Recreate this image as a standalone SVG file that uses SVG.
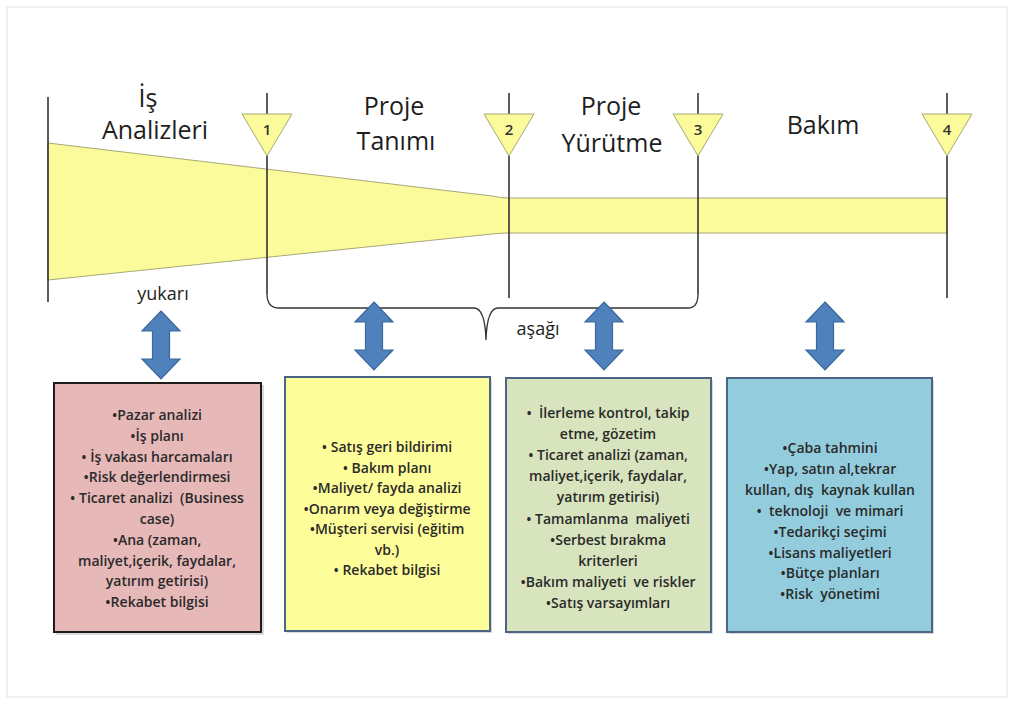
<svg xmlns="http://www.w3.org/2000/svg" width="1014" height="703" viewBox="0 0 1014 703">
  <style>
    .frame { fill: #ffffff; stroke: #ececec; stroke-width: 1.5; }
    .phase-line { stroke: #333333; stroke-width: 1.6; fill: none; }
    .funnel { fill: #fbfb9c; stroke: #a8a878; stroke-width: 1; }
    .gate { fill: #fbfb9c; stroke: #a8a878; stroke-width: 1; }
    .gate-num { font-family: "Open Sans", "Liberation Sans", sans-serif; font-size: 15px; fill: #333333; text-anchor: middle; font-weight: 600; }
    .heading { font-family: "Open Sans", "Liberation Sans", sans-serif; font-size: 25px; fill: #1e1e1e; text-anchor: middle; font-weight: 500; }
    .label { font-family: "Open Sans", "Liberation Sans", sans-serif; font-size: 18px; fill: #1e1e1e; text-anchor: middle; font-weight: 500; }
    .brace { stroke: #333333; stroke-width: 1.3; fill: none; }
    .arrow { fill: #4f81bd; stroke: #3a679c; stroke-width: 1.2; }
    .box { stroke: #4a6684; stroke-width: 2; }
    .shadow { fill: #d9d9d9; }
    .item { font-family: "Open Sans", "Liberation Sans", sans-serif; font-size: 14px; fill: #2a2a2a; text-anchor: middle; font-weight: 600; white-space: pre; }
  </style>
  <defs>
    <!-- vertical double-headed block arrow, centred on x=0, from y=0 to y=68 -->
    <path id="dbl" d="M0,0 L19,20 L8.5,20 L8.5,48 L19,48 L0,68 L-19,48 L-8.5,48 L-8.5,20 L-19,20 Z"/>
  </defs>

  <rect class="frame" x="7" y="7" width="1000" height="690"/>

  <!-- narrowing band of options across the phases -->
  <g id="funnel">
    <path class="funnel" d="M48,143 L492,196 Q500,198 510,198 L947,198 L947,233 L510,233 Q500,233 492,234 L48,280 Z"/>
  </g>

  <!-- phase boundaries and brace -->
  <g id="connectors">
    <line class="phase-line" x1="48" y1="97" x2="48" y2="302"/>
    <line class="phase-line" x1="267" y1="93" x2="267" y2="294"/>
    <line class="phase-line" x1="509" y1="93" x2="509" y2="298"/>
    <line class="phase-line" x1="698" y1="93" x2="698" y2="294"/>
    <line class="phase-line" x1="947" y1="93" x2="947" y2="298"/>
    <path class="brace" d="M267,294 Q267,308 279,308 L474,308 Q485,308 486,340 Q487,308 498,308 L688,308 Q698,308 698,294"/>
    <use href="#dbl" class="arrow" transform="translate(161,311)"/>
    <use href="#dbl" class="arrow" transform="translate(374,302)"/>
    <use href="#dbl" class="arrow" transform="translate(604,302)"/>
    <use href="#dbl" class="arrow" transform="translate(825,302)"/>
  </g>

  <!-- gates -->
  <g id="gate1">
    <path class="gate" d="M242,114 L292,114 L267,156 Z"/>
    <text class="gate-num" x="267" y="135">1</text>
  </g>
  <g id="gate2">
    <path class="gate" d="M484,114 L534,114 L509,156 Z"/>
    <text class="gate-num" x="509" y="135">2</text>
  </g>
  <g id="gate3">
    <path class="gate" d="M673,114 L723,114 L698,156 Z"/>
    <text class="gate-num" x="698" y="135">3</text>
  </g>
  <g id="gate4">
    <path class="gate" d="M922,114 L972,114 L947,156 Z"/>
    <text class="gate-num" x="947" y="135">4</text>
  </g>

  <!-- phase titles -->
  <g id="phase-business">
    <text class="heading" x="148" y="107">İş</text>
    <text class="heading" x="155" y="139">Analizleri</text>
  </g>
  <g id="phase-definition">
    <text class="heading" x="394" y="115">Proje</text>
    <text class="heading" x="396" y="150">Tanımı</text>
  </g>
  <g id="phase-execution">
    <text class="heading" x="611" y="115">Proje</text>
    <text class="heading" x="612" y="152">Yürütme</text>
  </g>
  <g id="phase-maintenance">
    <text class="heading" x="823" y="134">Bakım</text>
  </g>

  <g id="label-up">
    <text class="label" x="163" y="300">yukarı</text>
  </g>
  <g id="label-down">
    <text class="label" x="538" y="335">aşağı</text>
  </g>

  <!-- content boxes -->
  <g id="box-business">
    <rect class="shadow" x="56" y="385" width="208" height="250"/>
    <rect x="54" y="383" width="207" height="249" fill="#e6b8b7" stroke="#1c1c1c" stroke-width="2"/>
    <text class="item" x="157" y="420">•Pazar analizi</text>
    <text class="item" x="157" y="440.8">•İş planı</text>
    <text class="item" x="157" y="461.6">• İş vakası harcamaları</text>
    <text class="item" x="157" y="482.4">•Risk değerlendirmesi</text>
    <text class="item" x="157" y="503.2">• Ticaret analizi  (Business</text>
    <text class="item" x="157" y="524">case)</text>
    <text class="item" x="157" y="544.8">•Ana (zaman,</text>
    <text class="item" x="157" y="565.6">maliyet,içerik, faydalar,</text>
    <text class="item" x="157" y="586.4">yatırım getirisi)</text>
    <text class="item" x="157" y="607.2">•Rekabet bilgisi</text>
  </g>

  <g id="box-definition">
    <rect class="shadow" x="287" y="379" width="205" height="254"/>
    <rect class="box" x="285" y="377" width="205" height="254" fill="#fdfd99"/>
    <text class="item" x="387" y="452">• Satış geri bildirimi</text>
    <text class="item" x="387" y="472.5">• Bakım planı</text>
    <text class="item" x="387" y="493">•Maliyet/ fayda analizi</text>
    <text class="item" x="387" y="513.5">•Onarım veya değiştirme</text>
    <text class="item" x="387" y="534">•Müşteri servisi (eğitim</text>
    <text class="item" x="387" y="554.5">vb.)</text>
    <text class="item" x="387" y="575">• Rekabet bilgisi</text>
  </g>

  <g id="box-execution">
    <rect class="shadow" x="508" y="380" width="205" height="254"/>
    <rect class="box" x="506" y="378" width="205" height="254" fill="#d8e4bd"/>
    <text class="item" x="608" y="418">•  İlerleme kontrol, takip</text>
    <text class="item" x="608" y="439.1">etme, gözetim</text>
    <text class="item" x="608" y="460.2">• Ticaret analizi (zaman,</text>
    <text class="item" x="608" y="481.3">maliyet,içerik, faydalar,</text>
    <text class="item" x="608" y="502.4">yatırım getirisi)</text>
    <text class="item" x="608" y="523.5">• Tamamlanma  maliyeti</text>
    <text class="item" x="608" y="544.6">•Serbest bırakma</text>
    <text class="item" x="608" y="565.7">kriterleri</text>
    <text class="item" x="608" y="586.8">•Bakım maliyeti  ve riskler</text>
    <text class="item" x="608" y="607.9">•Satış varsayımları</text>
  </g>

  <g id="box-maintenance">
    <rect class="shadow" x="729" y="380" width="205" height="254"/>
    <rect class="box" x="727" y="378" width="205" height="254" fill="#93cddd"/>
    <text class="item" x="830" y="453">•Çaba tahmini</text>
    <text class="item" x="830" y="473.9">•Yap, satın al,tekrar</text>
    <text class="item" x="830" y="494.8">kullan, dış  kaynak kullan</text>
    <text class="item" x="830" y="515.7">•  teknoloji  ve mimari</text>
    <text class="item" x="830" y="536.6">•Tedarikçi seçimi</text>
    <text class="item" x="830" y="557.5">•Lisans maliyetleri</text>
    <text class="item" x="830" y="578.4">•Bütçe planları</text>
    <text class="item" x="830" y="599.3">•Risk  yönetimi</text>
  </g>
</svg>
